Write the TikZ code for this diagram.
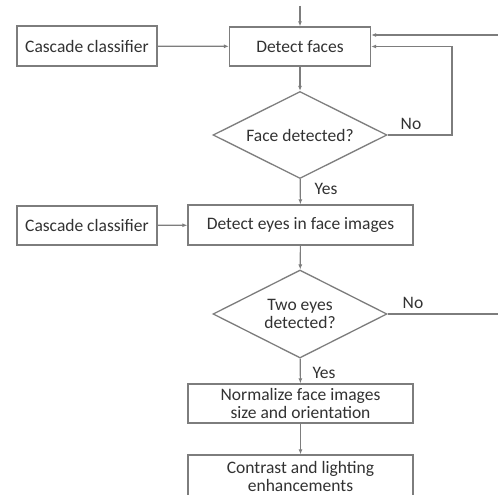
\documentclass[tikz,border=0pt]{standalone}
\usepackage{fontspec}
\setmainfont{Carlito}
\usetikzlibrary{shapes.geometric,arrows.meta}
\definecolor{linec}{RGB}{125,125,125}
\definecolor{textc}{RGB}{50,50,50}
\begin{document}
\begin{tikzpicture}[x=1pt,y=-1pt,
  every node/.style={font=\fontsize{17.5}{18}\selectfont, text=textc},
  boxn/.style={draw=linec, line width=1.3pt, rectangle, inner sep=0pt, align=center},
  decn/.style={draw=linec, line width=1.3pt, diamond, inner sep=0pt, minimum width=174pt, minimum height=87pt,
    label={[align=center, inner sep=0pt]center:#1}},
  conn/.style={draw=linec, line width=1.2pt},
  arr/.style={conn, -{Latex[length=5pt,width=4pt]}},
  lbl/.style={inner sep=0pt}]
\useasboundingbox (0,0) rectangle (498,495);
\fill[white] (0,0) rectangle (498,495);
% nodes
\node[boxn, minimum width=141pt, minimum height=39pt] (df) at (300,46.5) {Detect faces};
\node[boxn, minimum width=140pt, minimum height=40pt] (cc1) at (87,46) {Cascade classifier};
\node[decn={Face detected?}] (d1) at (300,135) {};
\node[boxn, minimum width=225pt, minimum height=40pt] (de) at (300.5,225) {Detect eyes in face images};
\node[boxn, minimum width=140pt, minimum height=39pt] (cc2) at (87,225.5) {Cascade classifier};
\node[decn={Two eyes\\detected?}, minimum height=88pt] (d2) at (300,314) {};
\node[boxn, minimum width=225pt, minimum height=39pt] (nm) at (300.5,403.5) {Normalize face images\\size and orientation};
\node[boxn, minimum width=225pt, minimum height=42pt] (ce) at (300.5,476) {Contrast and lighting\\enhancements};
% labels
\node[lbl] (no1) at (411,124) {No};
\node[lbl] (yes1) at (326,189) {Yes};
\node[lbl] (no2) at (413,303) {No};
\node[lbl] (yes2) at (324,373) {Yes};
% coordinates
\coordinate (top) at (300,6);
\coordinate (lp) at (452,135);
\coordinate (e1) at (498,314);
\coordinate (e2) at (498,35);
% connectors
\draw[arr] (top) -- (df.north);
\draw[arr] (cc1) -- (df);
\draw[arr] (df) -- (d1);
\draw[arr] (d1.east) -- (lp) |- (df.east);
\draw[arr] (e2) -- (e2 -| df.east);
\draw[arr] (d1) -- (de);
\draw[arr] (cc2) -- (de);
\draw[arr] (de) -- (d2);
\draw[conn] (d2.east) -- (e1);
\draw[arr] (d2) -- (nm);
\draw[arr] (nm) -- (ce);
\end{tikzpicture}
\end{document}
